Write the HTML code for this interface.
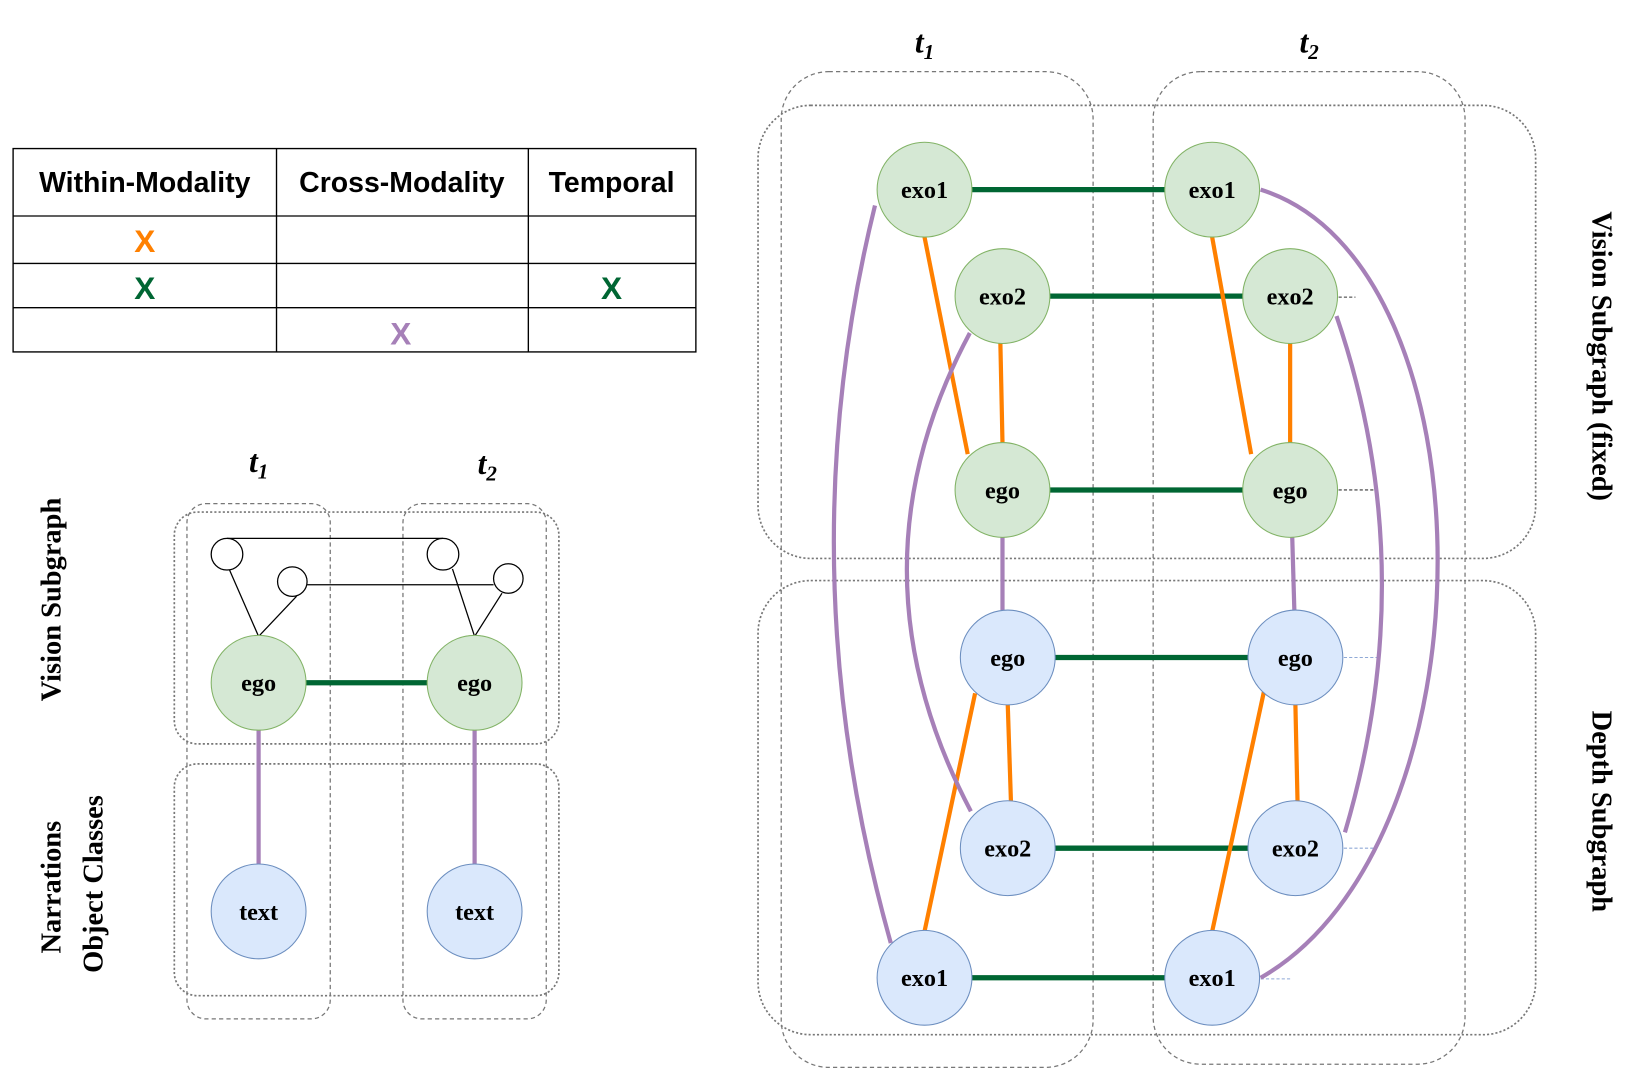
<!DOCTYPE html>
<html><head><meta charset="utf-8"><style>
html,body{margin:0;padding:0;background:#fff;}
svg{display:block;}
</style></head><body>
<svg width="1652" height="1080" viewBox="0 0 1567 1025" xmlns="http://www.w3.org/2000/svg">
<rect width="1567" height="1025" fill="#fff"/>
<!-- table -->
<g stroke="#000" stroke-width="1.3" fill="none">
<rect x="12" y="141" width="648" height="193"/>
<line x1="12" y1="205" x2="660" y2="205"/>
<line x1="12" y1="250" x2="660" y2="250"/>
<line x1="12" y1="292" x2="660" y2="292"/>
<line x1="262" y1="141" x2="262" y2="334"/>
<line x1="501" y1="141" x2="501" y2="334"/>
</g>
<g font-family="Liberation Sans, sans-serif" font-weight="bold" font-size="27" text-anchor="middle">
<text x="137" y="182">Within-Modality</text>
<text x="381" y="182">Cross-Modality</text>
<text x="580" y="182">Temporal</text>
<text x="137" y="239" fill="#ff8000" font-size="30">X</text>
<text x="137" y="284" fill="#006633" font-size="30">X</text>
<text x="580" y="284" fill="#006633" font-size="30">X</text>
<text x="380" y="327" fill="#a680b8" font-size="30">X</text>
</g>
<!-- left diagram -->
<g font-family="Liberation Serif, serif" font-weight="bold" font-style="italic" font-size="30" text-anchor="middle">
<text x="245" y="448">t<tspan font-size="20" dy="6">1</tspan></text>
<text x="462" y="450">t<tspan font-size="20" dy="6">2</tspan></text>
<text x="877" y="50">t<tspan font-size="20" dy="6">1</tspan></text>
<text x="1242" y="50">t<tspan font-size="20" dy="6">2</tspan></text>
</g>
<g fill="none" stroke="#777" stroke-width="1.2">
<rect x="177" y="478" width="136" height="489" rx="18" stroke-dasharray="4,3"/>
<rect x="382" y="478" width="136" height="489" rx="18" stroke-dasharray="4,3"/>
<rect x="165" y="486" width="365" height="220" rx="22" stroke-dasharray="2,2" stroke-width="1.6"/>
<rect x="165" y="725" width="365" height="220" rx="22" stroke-dasharray="2,2" stroke-width="1.6"/>
</g>
<g stroke="#000" stroke-width="1.2" fill="#fff">
<line x1="215" y1="511" x2="420" y2="511"/>
<line x1="291" y1="555" x2="468" y2="555"/>
<line x1="217" y1="540" x2="245" y2="604"/>
<line x1="281" y1="566" x2="245" y2="604"/>
<line x1="429" y1="540" x2="450" y2="604"/>
<line x1="476" y1="563" x2="450" y2="604"/>
<circle cx="215" cy="526" r="15"/>
<circle cx="277" cy="552" r="14"/>
<circle cx="420" cy="526" r="15"/>
<circle cx="482" cy="549" r="14"/>
</g>
<line x1="290" y1="648" x2="405" y2="648" stroke="#006633" stroke-width="5"/>
<line x1="245" y1="693" x2="245" y2="820" stroke="#a680b8" stroke-width="4"/>
<line x1="450" y1="693" x2="450" y2="820" stroke="#a680b8" stroke-width="4"/>
<g stroke-width="1">
<circle cx="245" cy="648" r="45" fill="#d5e8d4" stroke="#82b366"/>
<circle cx="450" cy="648" r="45" fill="#d5e8d4" stroke="#82b366"/>
<circle cx="245" cy="865" r="45" fill="#dae8fc" stroke="#6c8ebf"/>
<circle cx="450" cy="865" r="45" fill="#dae8fc" stroke="#6c8ebf"/>
</g>
<g font-family="Liberation Serif, serif" font-weight="bold" font-size="23" text-anchor="middle">
<text x="245" y="656">ego</text><text x="450" y="656">ego</text>
<text x="245" y="873">text</text><text x="450" y="873">text</text>
</g>
<g font-family="Liberation Serif, serif" font-weight="bold" font-size="27" text-anchor="middle">
<text transform="translate(57,569) rotate(-90)">Vision Subgraph</text>
<text transform="translate(57,842) rotate(-90)">Narrations</text>
<text transform="translate(97,839) rotate(-90)">Object Classes</text>
<text transform="translate(1511,338) rotate(90)">Vision Subgraph (fixed)</text>
<text transform="translate(1511,770) rotate(90)">Depth Subgraph</text>
</g>
<!-- right diagram boxes -->
<g fill="none" stroke="#777" stroke-width="1.2">
<rect x="741" y="68" width="296" height="945" rx="45" stroke-dasharray="4,3"/>
<rect x="1094" y="68" width="296" height="942" rx="45" stroke-dasharray="4,3"/>
<rect x="719" y="100" width="738" height="430" rx="50" stroke-dasharray="2,2" stroke-width="1.6"/>
<rect x="719" y="551" width="738" height="431" rx="50" stroke-dasharray="2,2" stroke-width="1.6"/>
</g>
<!-- stubs -->
<g stroke-width="1" stroke-dasharray="3,2">
<line x1="1270" y1="282" x2="1286" y2="282" stroke="#333"/>
<line x1="1270" y1="465" x2="1305" y2="465" stroke="#333"/>
<line x1="1275" y1="624" x2="1308" y2="624" stroke="#8fa9d6"/>
<line x1="1275" y1="805" x2="1305" y2="805" stroke="#8fa9d6"/>
<line x1="1196" y1="929" x2="1226" y2="929" stroke="#8fa9d6"/>
</g>
<!-- edges -->
<g stroke="#006633" stroke-width="5">
<line x1="922" y1="180" x2="1105" y2="180"/>
<line x1="996" y1="281" x2="1179" y2="281"/>
<line x1="996" y1="465" x2="1179" y2="465"/>
<line x1="1001" y1="624" x2="1184" y2="624"/>
<line x1="1001" y1="805" x2="1184" y2="805"/>
<line x1="922" y1="928" x2="1105" y2="928"/>
</g>
<g stroke="#ff8000" stroke-width="4">
<line x1="877" y1="225" x2="918" y2="431"/>
<line x1="949" y1="326" x2="951" y2="420"/>
<line x1="1150" y1="225" x2="1187" y2="431"/>
<line x1="1224" y1="326" x2="1224" y2="420"/>
<line x1="956" y1="669" x2="959" y2="760"/>
<line x1="925" y1="658" x2="877" y2="884"/>
<line x1="1229" y1="669" x2="1231" y2="760"/>
<line x1="1199" y1="657" x2="1150" y2="884"/>
</g>
<g stroke="#a680b8" stroke-width="4" fill="none">
<line x1="951" y1="510" x2="951" y2="579"/>
<line x1="1226" y1="510" x2="1228" y2="579"/>
<path d="M830,195 Q745,540 845,895"/>
<path d="M920,316 Q800,540 921,770"/>
<path d="M1196,180 C1420,250 1420,800 1196,928"/>
<path d="M1268,300 Q1350,540 1276,790"/>
</g>
<g stroke-width="1">
<g fill="#d5e8d4" stroke="#82b366">
<circle cx="877" cy="180" r="45"/><circle cx="1150" cy="180" r="45"/>
<circle cx="951" cy="281" r="45"/><circle cx="1224" cy="281" r="45"/>
<circle cx="951" cy="465" r="45"/><circle cx="1224" cy="465" r="45"/>
</g>
<g fill="#dae8fc" stroke="#6c8ebf">
<circle cx="956" cy="624" r="45"/><circle cx="1229" cy="624" r="45"/>
<circle cx="956" cy="805" r="45"/><circle cx="1229" cy="805" r="45"/>
<circle cx="877" cy="928" r="45"/><circle cx="1150" cy="928" r="45"/>
</g>
</g>
<g font-family="Liberation Serif, serif" font-weight="bold" font-size="23" text-anchor="middle">
<text x="877" y="188">exo1</text><text x="1150" y="188">exo1</text>
<text x="951" y="289">exo2</text><text x="1224" y="289">exo2</text>
<text x="951" y="473">ego</text><text x="1224" y="473">ego</text>
<text x="956" y="632">ego</text><text x="1229" y="632">ego</text>
<text x="956" y="813">exo2</text><text x="1229" y="813">exo2</text>
<text x="877" y="936">exo1</text><text x="1150" y="936">exo1</text>
</g>
</svg>
</body></html>
